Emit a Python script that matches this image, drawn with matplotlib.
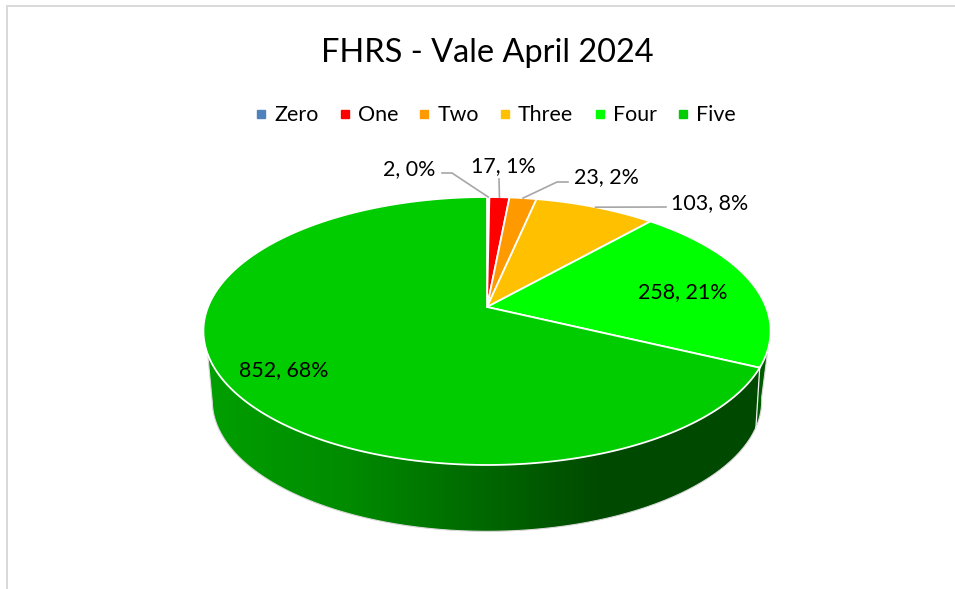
import numpy as np
import matplotlib
matplotlib.use("Agg")
import matplotlib.pyplot as plt
from matplotlib.lines import Line2D
from matplotlib.patches import Polygon

plt.rcParams['font.family'] = ['Lato', 'DejaVu Sans']

# Data
categories = ["Zero", "One", "Two", "Three", "Four", "Five"]
counts = [2, 17, 23, 103, 258, 852]
colors = ["#4F81BD", "#FF0000", "#FF9900", "#FFC000", "#00FF00", "#00CC00"]
title = "FHRS - Vale April 2024"

# Label anchors, in pixels
label_xy = [(409, 169), (503, 166), (606, 177), (710, 203), (683, 292), (284, 370)]


# Perspective view of a flat circle. Angle is clockwise from 12 o'clock.
def top_rim(theta):
    u, v = np.sin(theta), np.cos(theta)
    w = 1 + 0.179 * v
    return 487 + 279 * u / w, 307 - 129.7 * v / w


def bottom_rim(theta):
    u, v = np.sin(theta), np.cos(theta)
    w = 1 + 0.25 * v
    return 487 + 266 * u / w, 368 - 122.5 * v / w


def shade(x):
    return np.interp(x, [206, 350, 490, 600, 800], [0.78, 0.68, 0.50, 0.36, 0.36])


fig = plt.figure(figsize=(9.55, 5.89), dpi=100)
ax = fig.add_axes([0, 0, 1, 1])

# Chart frame, only top and left show
ax.plot([7, 7, 955], [589, 6, 6], color="#D9D9D9", lw=1.4, solid_joinstyle="miter")

total = sum(counts)
edges = np.concatenate([[0], np.cumsum(counts)]) / total * 2 * np.pi

# Side wall: only Four and Five face the viewer.
# (slice, top rim angle where silhouette leaves, bottom rim angle) in degrees
wall_parts = [(4, 108, 103), (5, 250, 255)]
columns = np.arange(955) + 0.5
for i, top_end, bottom_end in wall_parts:
    top_end, bottom_end = np.radians(top_end), np.radians(bottom_end)
    tx, ty = top_rim(np.linspace(edges[5], top_end, 150))
    bx, by = bottom_rim(np.linspace(bottom_end, edges[5], 150))
    outline = Polygon(np.c_[np.r_[tx, bx], np.r_[ty, by]], transform=ax.transData)
    base = np.array(matplotlib.colors.to_rgb(colors[i]))
    grad = base[None, None, :] * shade(columns)[None, :, None]
    img = ax.imshow(grad, extent=(0, 955, 589, 0), aspect="auto", zorder=2,
                    interpolation="bilinear")
    img.set_clip_path(outline)

    # thin light edge round the outside
    ax.plot(np.r_[tx[-1], bx], np.r_[ty[-1], by], color="#D9D9D9", lw=0.8, zorder=3)

# White seam where Four meets Five on the wall
sx0, sy0 = top_rim(edges[5])
sx1, sy1 = bottom_rim(edges[5])
ax.plot([sx0, sx1], [sy0, sy1], color="#F2F2F2", lw=0.9, zorder=3)

# Top face
for i in range(len(counts)):
    t = np.linspace(edges[i], edges[i + 1], 300)
    rx, ry = top_rim(t)
    ax.fill(np.r_[487, rx], np.r_[307, ry], facecolor=colors[i], edgecolor="white",
            lw=1.3, joinstyle="miter", zorder=4)

# Leader lines
mids = (edges[:-1] + edges[1:]) / 2
leader_start = [[(442, 173), (452, 173)], [(499, 179)], [(568, 182), (557, 182)], [(666, 207)]]
for i, pts in enumerate(leader_start):
    mx, my = top_rim(mids[i])
    xs = [p[0] for p in pts] + [mx]
    ys = [p[1] for p in pts] + [my]
    ax.plot(xs, ys, color="#A6A6A6", lw=1.2, zorder=5)

# Data labels
for i, n in enumerate(counts):
    ax.text(label_xy[i][0], label_xy[i][1], f"{n}, {round(100 * n / total)}%",
            fontsize=15.4, color="black", ha="center", va="center", zorder=6)

ax.text(487, 52.5, title, fontsize=23.4, color="black", ha="center", va="center")

handles = [Line2D([], [], linestyle="none", marker="s", markersize=5.8, color=c) for c in colors]
ax.legend(handles, categories, loc="center", bbox_to_anchor=(493, 115),
          bbox_transform=ax.transData, ncol=6, frameon=False, fontsize=15.4,
          columnspacing=0.735, handletextpad=0.1, handlelength=1.0, borderpad=0)

ax.set_xlim(0, 955)
ax.set_ylim(589, 0)
ax.axis("off")

fig.savefig("out.png", dpi=100)
